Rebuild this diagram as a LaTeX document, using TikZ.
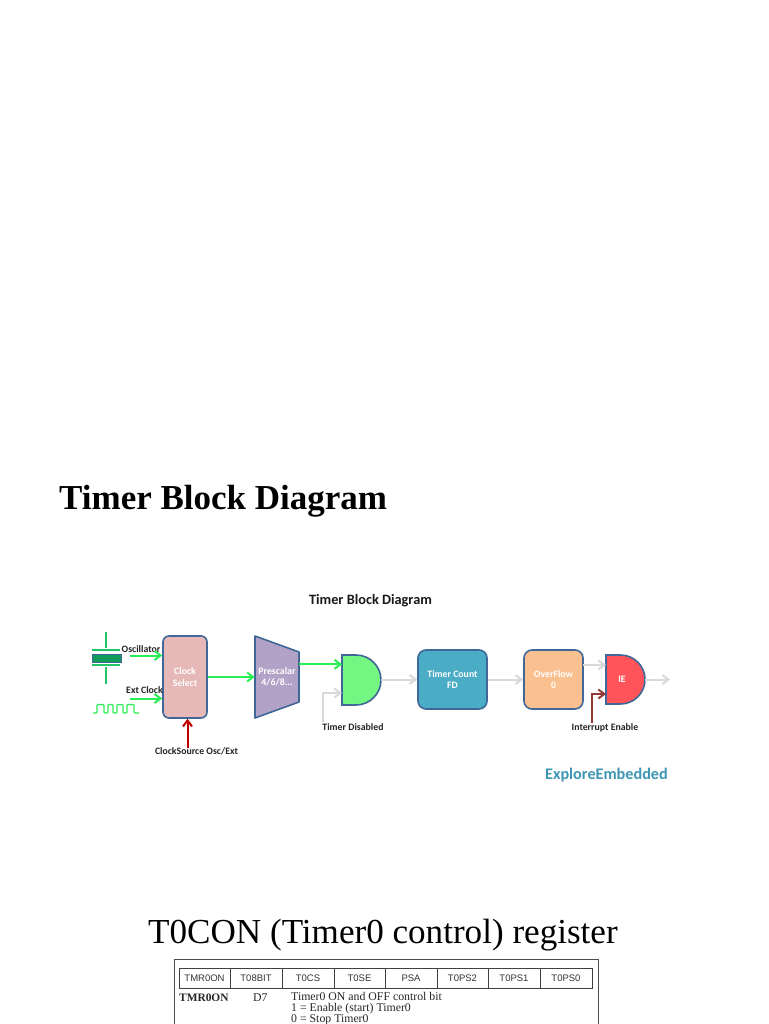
\documentclass[tikz,border=0pt]{standalone}
\usepackage{fontspec}
\setmainfont{Carlito}
\newfontfamily\serifface{Liberation Serif}
\newfontfamily\sansface{Liberation Sans}
\usetikzlibrary{arrows.meta,calc}
\definecolor{edgeblue}{HTML}{3F6797}
\definecolor{sigGreen}{HTML}{2BEE55}
\definecolor{sigGrey}{HTML}{D9D9D9}
\definecolor{sigRed}{HTML}{C00000}
\definecolor{sigMaroon}{HTML}{953735}
\definecolor{clockfill}{HTML}{E6B9B8}
\definecolor{prefill}{HTML}{B2A2C7}
\definecolor{gatefill}{HTML}{74F782}
\definecolor{countfill}{HTML}{4BACC6}
\definecolor{overfill}{HTML}{FAC090}
\definecolor{iefill}{HTML}{FF555A}
\definecolor{brandcol}{HTML}{3E96B4}
\definecolor{xtalcol}{HTML}{129B5A}
\definecolor{xtalline}{HTML}{22C466}
\tikzset{
  blockshape/.style={draw=edgeblue,line width=1.6pt,rounded corners=6pt},
  blocklabel/.style={text=white,font=\bfseries\fontsize{9.8}{11.5}\selectfont,align=center,inner sep=0pt},
  caption/.style={text=black!85,font=\bfseries\fontsize{9.8}{10}\selectfont,inner sep=0pt},
  zone/.style={inner sep=0pt,minimum width=#1},
  wiretip/.style={line width=2pt,-{Straight Barb[length=6pt,width=9pt]}},
  greenwire/.style={draw=sigGreen,wiretip},
  greywire/.style={draw=sigGrey,wiretip},
  redwire/.style={draw=sigRed,wiretip},
  maroonwire/.style={draw=sigMaroon,wiretip},
  headline/.style={inner sep=0pt,anchor=base west},
  regcell/.style={draw=black!75,line width=.8pt,minimum height=20pt,inner sep=0pt,text=black!80,font=\sansface\fontsize{9.5}{10}\selectfont},
  regtext/.style={inner sep=0pt,anchor=base west,text=black!85,font=\serifface\fontsize{11.8}{12}\selectfont},
}
\begin{document}
\begin{tikzpicture}[x=1pt,y=-1pt]
\useasboundingbox (0,0) rectangle (768,1024);
\fill[white] (0,0) rectangle (768,1024);
% headings
\node[headline,font=\serifface\bfseries\fontsize{35}{36}\selectfont] (title) at (59,509) {Timer Block Diagram};
\node[inner sep=0pt,font=\bfseries\fontsize{14.3}{15}\selectfont,text=black!90] (subtitle) at (370.5,601) {Timer Block Diagram};
\node[headline,font=\serifface\fontsize{35.1}{38}\selectfont] (regtitle) at (148,943) {T0CON (Timer0 control) register};
\node[inner sep=0pt,font=\bfseries\fontsize{16.2}{17}\selectfont,text=brandcol] (brand) at (606.5,775) {ExploreEmbedded};
% crystal
\draw[xtalline,line width=1.5pt] (106,632) -- (106,648) (92,650) -- (120,650) (92,665) -- (120,665) (106,667) -- (106,684);
\filldraw[draw=edgeblue,fill=xtalcol,line width=.8pt] (92,654) rectangle (121,662);
% blocks
\node[blockshape,fill=clockfill,minimum width=44pt,minimum height=82pt,inner sep=0pt] (clock) at (185,677) {};
\node[blocklabel] (clocktext) at (185,677) {Clock\\Select};
\filldraw[fill=prefill,draw=edgeblue,line width=1.6pt,line join=round] (255,636) -- (299,652) -- (299,702) -- (255,718) -- cycle;
\node[blocklabel,minimum width=44pt,minimum height=82pt] (prescaler) at (277,677) {Prescalar\\4/6/8...};
\filldraw[fill=gatefill,draw=edgeblue,line width=1.6pt] (342,655) -- (356,655) arc[start angle=90,end angle=-90,radius=25pt] -- (342,705) -- cycle;
\node[zone=39pt,minimum height=49pt] (gate) at (361.5,679.5) {};
\node[blockshape,fill=countfill,minimum width=69pt,minimum height=59pt,inner sep=0pt,rounded corners=8pt] (count) at (452.5,679.5) {};
\node[blocklabel] (counttext) at (452.5,679.5) {Timer Count\\FD};
\node[blockshape,fill=overfill,minimum width=59pt,minimum height=59pt,inner sep=0pt,rounded corners=8pt] (over) at (553.5,679.5) {};
\node[blocklabel] (overtext) at (553.5,679.5) {OverFlow\\0};
\filldraw[fill=iefill,draw=edgeblue,line width=1.6pt] (606,655) -- (620.5,655) arc[start angle=90,end angle=-90,radius=24.5pt] -- (606,704) -- cycle;
\node[zone=39pt,minimum height=49pt] (ie) at (625.5,679.5) {};
\node[blocklabel] (ietext) at (622,679.5) {IE};
% captions
\node[caption] (osc) at (141,649.5) {Oscillator};
\node[caption] (ext) at (144.5,690) {Ext Clock};
\node[caption] (src) at (196.5,751) {ClockSource Osc/Ext};
\node[caption] (dis) at (353,727.5) {Timer Disabled};
\node[caption] (int) at (605,727.5) {Interrupt Enable};
% free ends
\coordinate (oscstart) at (130,655.5);
\coordinate (extstart) at (130,698.5);
\coordinate (srcstart) at (187.5,748);
\coordinate (disstart) at (323,722);
\coordinate (intstart) at (592,723);
\coordinate (outend) at (670,679.5);
\coordinate (ovfltop) at (583,665);
% wires
\draw[greenwire] (oscstart) -- (oscstart -| clock.west);
\draw[greenwire] (extstart) -- (extstart -| clock.west);
\draw[greenwire] (clock.east) -- (prescaler.west);
\draw[greenwire] (prescaler.east |- gate.north) ++(0,9.5) -- ++(43,0);
\draw[greywire] (disstart) -- (323,693) -- (342,693);
\draw[greywire] (gate.east) -- (count.west);
\draw[greywire] (count.east) -- (over.west);
\draw[greywire] (ovfltop) -- (606,665);
\draw[greywire] (ie.east) -- (outend);
\draw[redwire] (srcstart) -- (clock.south -| srcstart);
\draw[maroonwire] (intstart) -- (592,694) -- (606,694);
% clock waveform
\draw[sigGreen,line width=1.3pt,rounded corners=1pt] (93,713) -- (97,713) -- (97,704.5) -- (104,704.5) -- (104,713) -- (108,713) -- (108,704.5) -- (113,704.5) -- (113,713) -- (117,713) -- (117,704.5) -- (123,704.5) -- (123,713) -- (127,713) -- (127,704.5) -- (134,704.5) -- (134,713) -- (139,713);
% register table
\draw[black!70,line width=.8pt] (174,1026) -- (174,959.5) -- (598,959.5) -- (598,1026);
\node[regcell,minimum width=51pt] (r7) at (204.5,978) {TMR0ON};
\node[regcell,minimum width=52pt] (r6) at (256,978) {T08BIT};
\node[regcell,minimum width=52pt] (r5) at (308,978) {T0CS};
\node[regcell,minimum width=51pt] (r4) at (359.5,978) {T0SE};
\node[regcell,minimum width=52pt] (r3) at (411,978) {PSA};
\node[regcell,minimum width=51pt] (r2) at (462.5,978) {T0PS2};
\node[regcell,minimum width=52pt] (r1) at (514,978) {T0PS1};
\node[regcell,minimum width=52pt] (r0) at (566,978) {T0PS0};
\node[regtext,font=\serifface\bfseries\fontsize{11.4}{12}\selectfont] (rn) at (179,1001) {TMR0ON};
\node[regtext] (rd) at (253,1001) {D7};
\node[regtext] (rl1) at (291,1000.5) {Timer0 ON and OFF control bit};
\node[regtext] (rl2) at (291,1011.5) {1 = Enable (start) Timer0};
\node[regtext] (rl3) at (291,1022) {0 = Stop Timer0};
\end{tikzpicture}
\end{document}
